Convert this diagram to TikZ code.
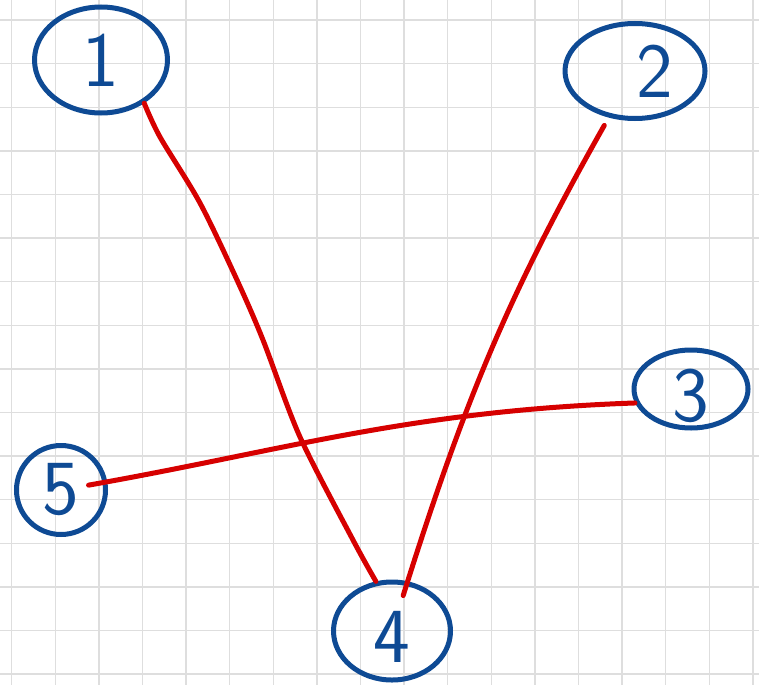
\documentclass[tikz,border=0pt]{standalone}
\usepackage{tikz}
\usetikzlibrary{shapes.geometric}
\definecolor{inkBlue}{RGB}{14,74,148}
\definecolor{inkRed}{RGB}{214,0,0}
\definecolor{gridGray}{RGB}{222,222,222}

\begin{document}
\begin{tikzpicture}[x=1pt,y=-1pt,
    vertex/.style={ellipse, draw=inkBlue, line width=5pt, text=inkBlue, inner sep=0pt,
        font=\sffamily\fontsize{78}{78}\selectfont},
    edge/.style={draw=inkRed, line width=5pt, line cap=round}]
    \useasboundingbox (0,0) rectangle (759,685);
    \foreach \i in {0,...,17}
        \draw[gridGray, line width=1.4pt] (11.7+43.6*\i,0) -- (11.7+43.6*\i,685);
    \foreach \j in {0,...,15}
        \draw[gridGray, line width=1.4pt] (0,20+43.6*\j) -- (759,20+43.6*\j);

    \node[vertex, minimum width=133pt, minimum height=106pt] (n1) at (101,60) {1};
    \node[vertex, minimum width=140pt, minimum height=95pt] (n2) at (635,71) {\hspace{40pt}2};
    \node[vertex, minimum width=114pt, minimum height=78pt] (n3) at (691,389) {\raisebox{-6pt}[\height][0pt]{3}};
    \node[vertex, minimum width=117pt, minimum height=98pt] (n4) at (392,631) {\raisebox{-6pt}[\height][0pt]{4}};
    \node[vertex, minimum width=89pt, minimum height=89pt] (n5) at (61,490) {5};

    \draw[edge] plot[smooth, tension=0.5] coordinates {(n1.-45) (160,137) (200,203) (237,280)
        (263,340) (300,437) (353,540) (n4.108)};
    \draw[edge, shorten <=9pt, shorten >=-15pt] (n2) to[bend right=6] (n4);
    \draw[edge, shorten >=28pt] (n3.194) to[out=182, in=10] (n5.center);
\end{tikzpicture}
\end{document}
